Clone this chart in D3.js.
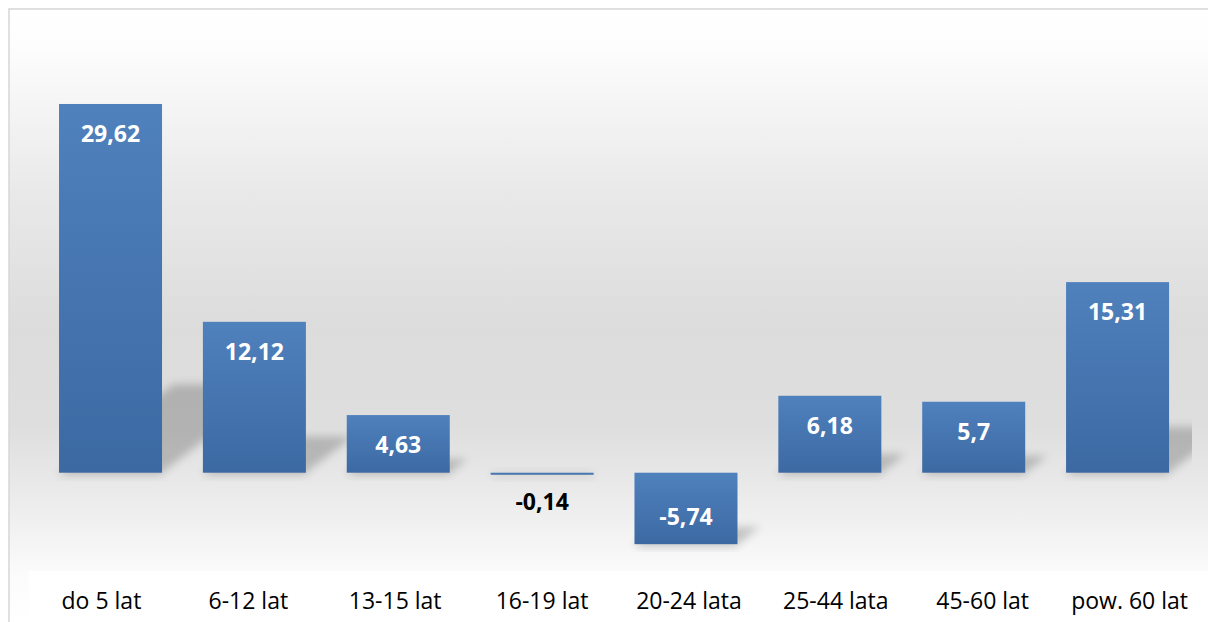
<!DOCTYPE html>
<html>
<head>
<meta charset="utf-8">
<script src="https://cdn.jsdelivr.net/npm/d3@7"></script>
<style>
  body { margin: 0; background: #fff; }
  svg { display: block; }
</style>
</head>
<body>
<svg width="1208" height="622"></svg>
<script>
const svg = d3.select("svg");
const width = +svg.attr("width");
const height = +svg.attr("height");

// data
const categories = ["do 5 lat", "6-12 lat", "13-15 lat", "16-19 lat", "20-24 lata", "25-44 lata", "45-60 lat", "pow. 60 lat"];
const values = [29.62, 12.12, 4.63, -0.14, -5.74, 6.18, 5.7, 15.31];
const valueLabels = ["29,62", "12,12", "4,63", "-0,14", "-5,74", "6,18", "5,7", "15,31"];

const font = "'Open Sans', 'Liberation Sans', sans-serif";

const defs = svg.append("defs");

// background gradient of the chart area
const bg = defs.append("linearGradient")
    .attr("id", "bg")
    .attr("gradientUnits", "userSpaceOnUse")
    .attr("x1", 0).attr("x2", 0).attr("y1", 9).attr("y2", 622);
[[0, "#ffffff"], [0.06, "#fdfdfd"], [0.3, "#e9e9e9"], [0.52, "#dcdcdc"], [0.68, "#dedede"], [0.82, "#eeeeee"], [0.92, "#fbfbfb"], [1, "#ffffff"]]
    .forEach(([o, c]) => bg.append("stop").attr("offset", o).attr("stop-color", c));

// bar fill gradient
const barGrad = defs.append("linearGradient")
    .attr("id", "barGrad")
    .attr("x1", 0).attr("x2", 0).attr("y1", 0).attr("y2", 1);
barGrad.append("stop").attr("offset", 0).attr("stop-color", "#4f81bd");
barGrad.append("stop").attr("offset", 1).attr("stop-color", "#3c69a2");

defs.append("filter")
    .attr("id", "blur")
    .attr("x", "-50%").attr("y", "-50%").attr("width", "200%").attr("height", "200%")
  .append("feGaussianBlur").attr("stdDeviation", 4);

defs.append("clipPath").attr("id", "plotClip")
  .append("rect").attr("x", 10).attr("y", 10).attr("width", 1182).attr("height", 560);

// chart area
svg.append("rect")
    .attr("x", 9).attr("y", 9)
    .attr("width", width + 10).attr("height", height + 10)
    .attr("fill", "url(#bg)")
    .attr("stroke", "#d9d9d9")
    .attr("stroke-width", 1.6);

// white box behind the category labels
svg.append("rect")
    .attr("x", 29).attr("y", 571)
    .attr("width", width - 29).attr("height", height - 571)
    .attr("fill", "#ffffff");

// scales
const x = d3.scaleBand()
    .domain(categories)
    .range([38.6, 1189.5])
    .paddingInner(0.284)
    .paddingOuter(0.142);

const xLabel = d3.scaleBand()
    .domain(categories)
    .range([28, 1203]);

const y = d3.scaleLinear()
    .domain([-10, 35])
    .range([597.2, 37.0]);

const data = categories.map((c, i) => ({ cat: c, value: values[i], label: valueLabels[i] }));

// perspective shadows behind the bars
const k = 0.24, s = 0.31;
svg.append("g")
    .attr("clip-path", "url(#plotClip)")
  .selectAll("path")
  .data(data)
  .join("path")
    .attr("d", d => {
        const x0 = x(d.cat), x1 = x0 + x.bandwidth();
        const top = Math.min(y(d.value), y(0)), bot = Math.max(y(d.value), y(0));
        const h = bot - top;
        return `M${x0},${bot} L${x1},${bot} L${x1 + s * h},${bot - k * h} L${x0 + s * h},${bot - k * h} Z`;
    })
    .attr("fill", "#000")
    .attr("fill-opacity", 0.2)
    .attr("filter", "url(#blur)");

// soft shadow just under each bar
svg.append("g")
  .selectAll("rect")
  .data(data)
  .join("rect")
    .attr("x", d => x(d.cat) + 2)
    .attr("y", d => Math.max(y(d.value), y(0)) - 3)
    .attr("width", x.bandwidth() - 2)
    .attr("height", 7)
    .attr("fill", "#000")
    .attr("fill-opacity", 0.08)
    .attr("filter", "url(#blur)");

// bars
svg.append("g")
  .selectAll("rect")
  .data(data)
  .join("rect")
    .attr("x", d => x(d.cat))
    .attr("y", d => Math.min(y(d.value), y(0)))
    .attr("width", x.bandwidth())
    .attr("height", d => Math.max(2, Math.abs(y(d.value) - y(0))))
    .attr("fill", "url(#barGrad)");

// value labels
svg.append("g")
  .selectAll("text")
  .data(data)
  .join("text")
    .attr("x", d => x(d.cat) + x.bandwidth() / 2)
    .attr("y", d => {
        const h = Math.abs(y(d.value) - y(0));
        if (d.value >= 0) return y(d.value) + 38;
        if (h < 40) return y(0) + 37;
        return y(d.value) - 19;
    })
    .attr("text-anchor", "middle")
    .attr("font-family", font)
    .attr("font-weight", "bold")
    .attr("font-size", 23)
    .attr("fill", d => Math.abs(y(d.value) - y(0)) < 40 ? "#000" : "#fff")
    .text(d => d.label);

// category labels
svg.append("g")
  .selectAll("text")
  .data(categories)
  .join("text")
    .attr("x", d => xLabel(d) + xLabel.bandwidth() / 2)
    .attr("y", 609)
    .attr("text-anchor", "middle")
    .attr("font-family", font)
    .attr("font-size", 23)
    .attr("fill", "#000")
    .text(d => d);
</script>
</body>
</html>
